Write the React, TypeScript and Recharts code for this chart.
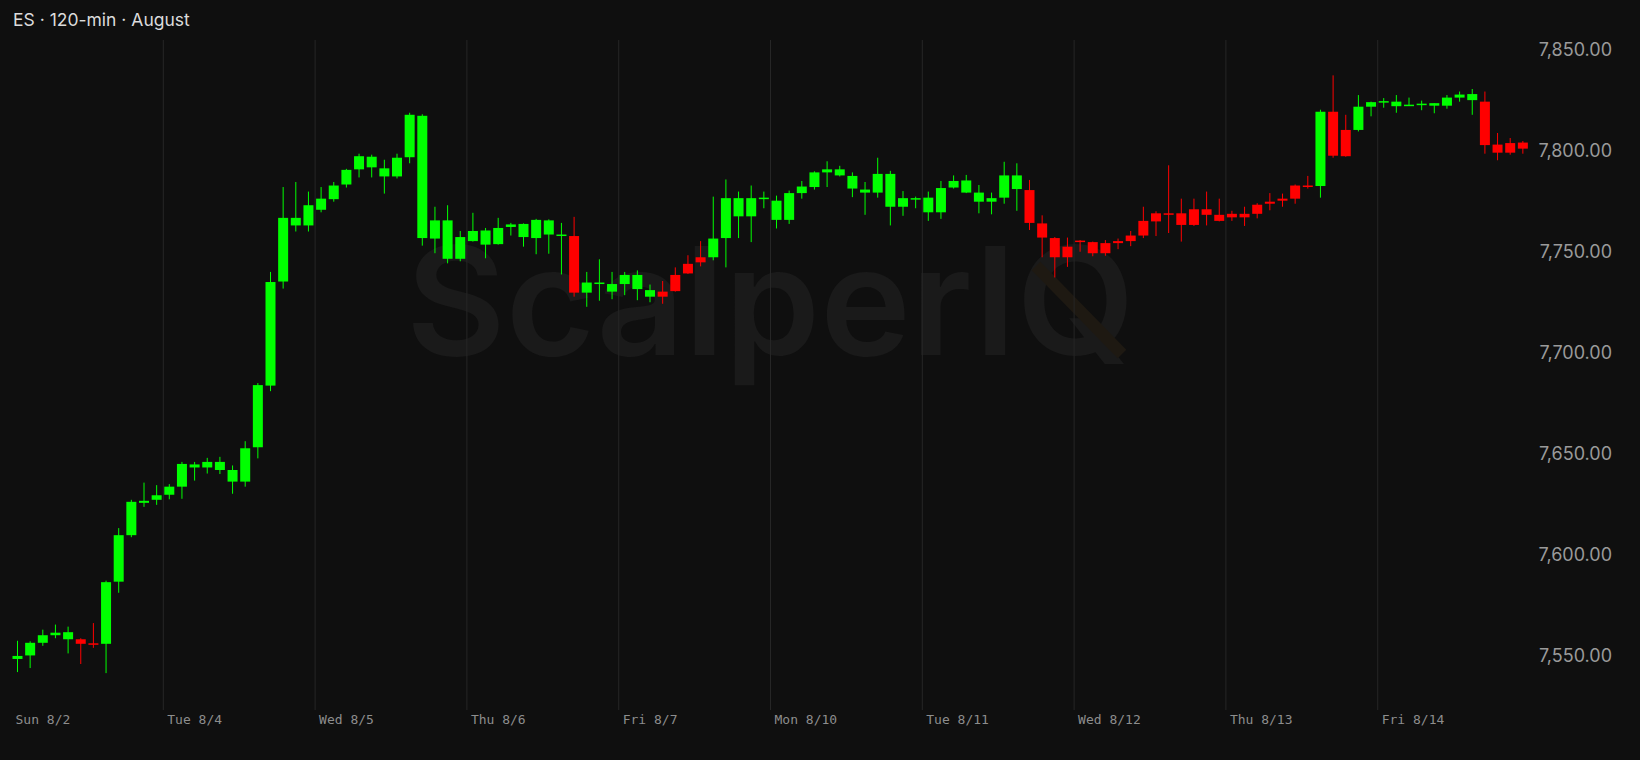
import { ComposedChart, Bar, XAxis, YAxis, CartesianGrid } from "recharts";

// one label per session day, each day holds 12 two-hour bars
const DAYS = ["Sun 8/2", "Tue 8/4", "Wed 8/5", "Thu 8/6", "Fri 8/7", "Mon 8/10", "Tue 8/11", "Wed 8/12", "Thu 8/13", "Fri 8/14"];
const PER_DAY = 12;

const OPEN = [
  7548.75, 7550.5, 7556.75, 7560.5, 7558.5, 7558.5, 7556.5, 7556.25, 7587, 7610, 7626, 7627.5,
  7630, 7634, 7643.5, 7643.5, 7642.25, 7636.5, 7636.5, 7653.5, 7684, 7735.5, 7763.25, 7763.25,
  7771, 7776.25, 7783.5, 7791, 7792, 7787.5, 7787.5, 7797, 7757, 7756.75, 7746.75, 7746.75,
  7755.5, 7753.75, 7754, 7762.5, 7757.5, 7757, 7758.75, 7758.25, 7758, 7730, 7734.5, 7730.5,
  7734.25, 7731.75, 7728, 7730.5, 7738.75, 7744.25, 7747.5, 7747.5, 7757, 7767.75, 7767.75, 7776.5,
  7766, 7766, 7779.25, 7782.25, 7789.5, 7788, 7781.5, 7779.5, 7779.5, 7772.5, 7772.5, 7776.5,
  7769.75, 7769.75, 7782, 7779.5, 7775, 7775, 7777, 7781.25, 7780.75, 7764.25, 7757, 7752.75,
  7755.75, 7755, 7754.5, 7755.5, 7758.25, 7765.5, 7769.25, 7769.25, 7769.25, 7771.25, 7771.25, 7768.5,
  7769, 7769, 7773.5, 7775, 7776.5, 7783, 7783, 7782.75, 7819.5, 7810.5, 7810.5, 7822,
  7824.25, 7822.25, 7822.75, 7823.25, 7822.5, 7822.5, 7826.5, 7825.25, 7824.5, 7803.25, 7804, 7804.25,
];
const HIGH = [
  7557.75, 7557.5, 7563.25, 7565.75, 7564.75, 7559, 7566.5, 7587.5, 7613.5, 7627.5, 7636, 7634.75,
  7635.25, 7646.25, 7646.25, 7648.25, 7648.75, 7644.5, 7656.5, 7685.25, 7740.25, 7782.25, 7784.75, 7780,
  7782.25, 7784.75, 7791.25, 7798.75, 7798.25, 7795.75, 7798.75, 7819, 7818.25, 7772.5, 7773.25, 7760.5,
  7769.5, 7762, 7767, 7764.5, 7764.25, 7766.5, 7766.25, 7764.5, 7767.5, 7740.25, 7746.5, 7740.25,
  7740.25, 7741, 7734, 7735.75, 7742.5, 7748.5, 7755.5, 7777.5, 7786, 7780, 7783, 7780,
  7778, 7780.5, 7785.25, 7790, 7795, 7792.75, 7789.5, 7784.75, 7796.75, 7790.25, 7780.25, 7777.5,
  7780, 7785.25, 7788, 7788.25, 7783.25, 7779.5, 7794.75, 7794, 7785.75, 7768.25, 7757.5, 7757.25,
  7756, 7755.25, 7756, 7756.75, 7760.5, 7772.5, 7770.25, 7793, 7776.5, 7776.5, 7780, 7776.5,
  7770.5, 7772.5, 7774.25, 7779.25, 7779, 7783.5, 7787.75, 7820.5, 7837.5, 7818, 7827.75, 7824.5,
  7826.25, 7827.75, 7826.5, 7825, 7823.75, 7827.75, 7829.5, 7830.75, 7829.5, 7809, 7806.5, 7805,
];
const LOW = [
  7542.25, 7544.25, 7555.25, 7559, 7551.5, 7546.25, 7554.25, 7541.75, 7581.5, 7609, 7624, 7625,
  7627.75, 7628, 7637, 7640.5, 7640.25, 7630.5, 7634, 7648, 7681.25, 7732, 7760.25, 7760.25,
  7769.75, 7775, 7782, 7787, 7787, 7779, 7786.5, 7794, 7753.25, 7749.5, 7744.5, 7745.5,
  7755.25, 7747, 7753.75, 7758.25, 7752.75, 7749, 7749.25, 7739, 7728, 7723, 7726, 7726.75,
  7728.75, 7726.25, 7725.25, 7724.5, 7730.5, 7739.25, 7743, 7746, 7742.5, 7757, 7755, 7771.75,
  7761.75, 7764, 7776.5, 7781, 7782.25, 7787.5, 7777.25, 7768.5, 7777, 7763.25, 7768, 7771.75,
  7765.5, 7766.5, 7781.5, 7779.25, 7769.25, 7768.75, 7774, 7770.5, 7761, 7747.5, 7737.5, 7742.75,
  7750.25, 7748, 7748.25, 7751.5, 7753, 7757, 7758, 7759.5, 7755.25, 7763, 7763.25, 7765.25,
  7765.5, 7763, 7766.75, 7770.75, 7772.5, 7774, 7781.5, 7777, 7796.75, 7797.25, 7809.75, 7817.25,
  7821.5, 7819, 7822.5, 7820.25, 7818.75, 7821, 7824.5, 7818, 7798.75, 7795.5, 7798.25, 7798.75,
];
const CLOSE = [
  7550.25, 7556.75, 7560.5, 7561.75, 7562, 7556.25, 7556, 7586.75, 7610, 7626.5, 7627, 7629.75,
  7634, 7645.25, 7645, 7646.25, 7646.25, 7642.25, 7653, 7684.25, 7735.25, 7767, 7767, 7773.25,
  7776.5, 7783, 7790.75, 7797.5, 7797.25, 7791.5, 7796.75, 7818, 7817.5, 7765.75, 7765.75, 7757.5,
  7760.5, 7760.75, 7762, 7763.75, 7764, 7766, 7765.75, 7758.75, 7730, 7735, 7735, 7734.25,
  7738.75, 7738.75, 7731.25, 7728, 7730.75, 7739.5, 7745, 7756.75, 7776.75, 7776.75, 7776.75, 7777,
  7775.5, 7779.25, 7782.5, 7789.5, 7791, 7791, 7787.75, 7781, 7788.75, 7788.75, 7776.75, 7776.75,
  7777, 7781.75, 7785.25, 7785.5, 7779.5, 7776.75, 7788, 7788, 7764.5, 7757.25, 7747.5, 7747.5,
  7755.25, 7749.5, 7749.5, 7754.5, 7755.5, 7758.25, 7765.25, 7768.75, 7763.5, 7763.5, 7768.5, 7765.5,
  7767.25, 7767.25, 7769, 7774, 7775.5, 7776.5, 7782.5, 7819.5, 7797.75, 7797.5, 7822, 7824.25,
  7824.75, 7824.5, 7823, 7823.5, 7823.75, 7826.5, 7828, 7828.25, 7803, 7799.25, 7799.25, 7801.25,
];

const PRICE_TICKS = [7550, 7600, 7650, 7700, 7750, 7800, 7850];

const W = 1640;
const H = 760;
const MARGIN = { top: 40, right: 0, bottom: 0, left: 11.5 };
const Y_AXIS_W = 110.5;
const PLOT_W = W - MARGIN.left - MARGIN.right - Y_AXIS_W;
const BAND = PLOT_W / OPEN.length;

const UP = "#00ff00";
const DOWN = "#ff0000";

const candles = OPEN.map((open, i) => ({
  t: i,
  open,
  high: HIGH[i],
  low: LOW[i],
  close: CLOSE[i],
}));

const fmt = (v: number) =>
  v.toLocaleString("en-US", { minimumFractionDigits: 2, maximumFractionDigits: 2 });

function Candle(props: any) {
  const { x, y, width, height, payload } = props;
  const { open, close, high, low } = payload;
  const top = Math.min(y, y + height);
  const h = Math.abs(height);
  const k = h / (high - low);
  const py = (v: number) => top + (high - v) * k;
  const color = close >= open ? UP : DOWN;
  const bodyTop = py(Math.max(open, close));
  const bodyH = Math.max(1.5, Math.abs(py(open) - py(close)));
  const cx = x + width / 2;
  return (
    <g>
      <line x1={cx} x2={cx} y1={top} y2={top + h} stroke={color} strokeWidth={1} />
      <rect x={x} y={bodyTop} width={width} height={bodyH} fill={color} />
    </g>
  );
}

function DayTick({ x, payload }: any) {
  return (
    <text
      x={x - BAND / 2 + 4}
      y={724}
      fill="#8d8d8d"
      fontSize={13}
      fontFamily="DejaVu Sans Mono, monospace"
    >
      {DAYS[payload.value / PER_DAY]}
    </text>
  );
}

function PriceTick({ y, payload }: any) {
  return (
    <text x={1612} y={y} dy={6} textAnchor="end" fill="#9a9a9a" fontSize={18} fontFamily="Inter, sans-serif">
      {fmt(payload.value)}
    </text>
  );
}

export default function App() {
  return (
    <div
      style={{
        position: "fixed",
        left: 0,
        top: 0,
        width: W,
        height: H,
        background: "#0f0f0f",
        fontFamily: "Inter, sans-serif",
      }}
    >
      <svg width={W} height={H} style={{ position: "absolute", left: 0, top: 0 }}>
        <text x={13} y={26} fill="#dcdcdc" fontSize={17.5} fontFamily="Inter, sans-serif">
          ES · 120-min · August
        </text>
        <text
          x={406}
          y={355}
          fill="#1a1a1a"
          fontSize={150}
          fontWeight={600}
          fontFamily="Inter, sans-serif"
          textLength={729}
          lengthAdjust="spacingAndGlyphs"
        >
          ScalperIQ
        </text>
        {/* faint warm tail on the watermark Q */}
        <line x1={1036} y1={266} x2={1122} y2={354} stroke="#1e1912" strokeWidth={12} />
      </svg>
      <div style={{ position: "absolute", left: 0, top: 0 }}>
        <ComposedChart width={W} height={H} data={candles} margin={MARGIN}>
          <CartesianGrid
            horizontal={false}
            stroke="#262626"
            verticalCoordinatesGenerator={({ offset }: any) =>
              DAYS.slice(1).map((_, k) => offset.left + ((k + 1) * PER_DAY * offset.width) / candles.length)
            }
          />
          <XAxis
            dataKey="t"
            type="category"
            height={50}
            ticks={DAYS.map((_, k) => k * PER_DAY)}
            interval={0}
            axisLine={false}
            tickLine={false}
            tick={<DayTick />}
          />
          <YAxis
            orientation="right"
            width={Y_AXIS_W}
            domain={[7523.5, 7855]}
            ticks={PRICE_TICKS}
            allowDataOverflow
            axisLine={false}
            tickLine={false}
            tick={<PriceTick />}
          />
          <Bar
            dataKey={(d: any) => [d.low, d.high]}
            barSize={10}
            shape={<Candle />}
            isAnimationActive={false}
          />
        </ComposedChart>
      </div>
    </div>
  );
}
